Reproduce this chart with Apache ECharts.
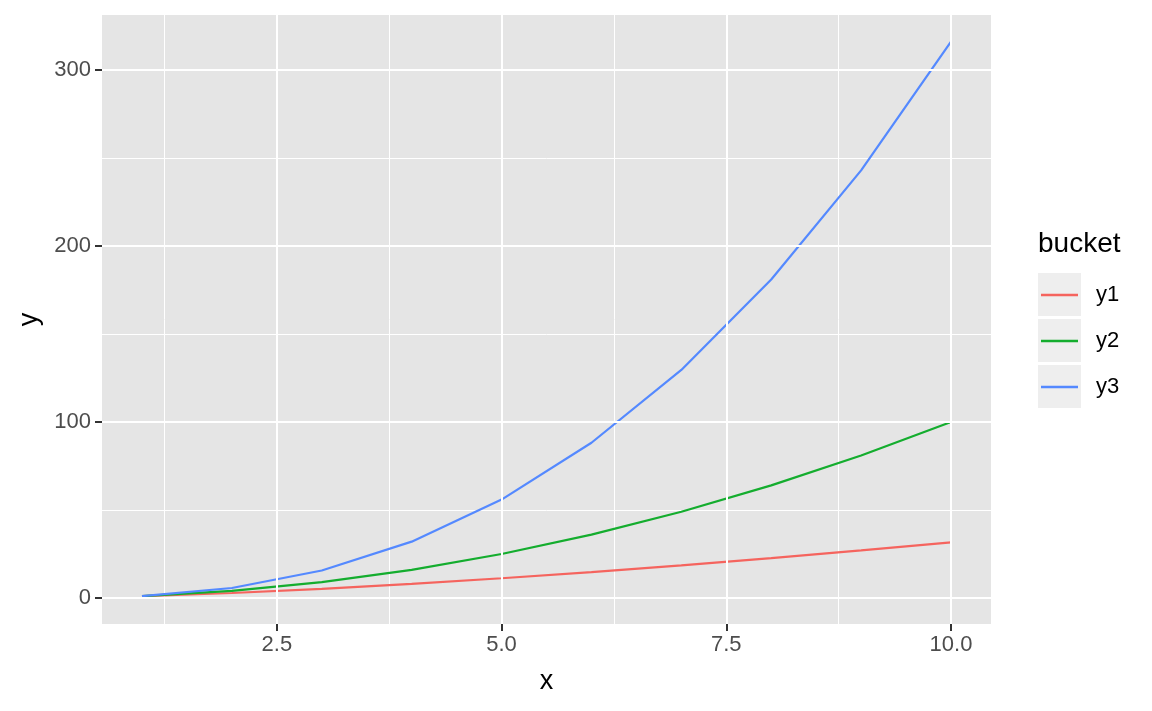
<!DOCTYPE html>
<html><head><meta charset="utf-8">
<script src="https://cdn.jsdelivr.net/npm/echarts@6/dist/echarts.min.js"></script>
<style>html,body{margin:0;padding:0;background:#fff}#c{width:1152px;height:711px}</style>
</head><body><div id="c"></div>
<script>
const xValues = [1, 2, 3, 4, 5, 6, 7, 8, 9, 10];
const y1 = [1, 2.83, 5.2, 8, 11.2, 14.7, 18.5, 22.6, 27, 31.6];
const y2 = [1, 4, 9, 16, 25, 36, 49, 64, 81, 100];
const y3 = [1, 5.66, 15.6, 32, 55.9, 88.2, 129.6, 181, 243, 316.2];
const seriesNames = ['y1', 'y2', 'y3'];
const xTicks = [2.5, 5.0, 7.5, 10.0];
const xMinor = [1.25, 3.75, 6.25, 8.75];
const yTicks = [0, 100, 200, 300];
const yMinor = [50, 150, 250];
const colors = ['#F5645E', '#14AD2E', '#5489FF'];

const xMin = 0.555, xMax = 10.445, yMin = -14.8, yMax = 331.3;
const font = 'Liberation Sans, Arial, sans-serif';
const chart = echarts.init(document.getElementById('c'));
const allY = [y1, y2, y3];
const gridPos = {left: 102, right: 161, top: 15, bottom: 87};

const option = {
  backgroundColor: '#fff',
  animation: false,
  grid: Object.assign({show: true, backgroundColor: '#E5E5E5', borderWidth: 0, containLabel: false}, gridPos),
  xAxis: [
    {
      type: 'value', min: xMin, max: xMax,
      name: 'x', nameLocation: 'middle', nameGap: 44, position: 'bottom',
      nameTextStyle: {fontFamily: font, fontSize: 27, color: '#000'},
      axisLine: {show: false, onZero: false},
      axisTick: {show: true, inside: false, length: 7, customValues: xTicks, lineStyle: {color: '#333', width: 2}},
      axisLabel: {customValues: xTicks, fontFamily: font, fontSize: 22, color: '#4D4D4D', margin: 10,
        formatter: v => v.toFixed(1)},
      splitLine: {show: true, lineStyle: {color: '#fff', width: 2}},
      z: 10
    },
    {
      type: 'value', min: xMin, max: xMax,
      show: true, position: 'top',
      axisLine: {show: false, onZero: false}, axisTick: {show: false, customValues: xMinor},
      axisLabel: {show: false, customValues: xMinor},
      splitLine: {show: true, lineStyle: {color: '#fff', width: 1}}
    }
  ],
  yAxis: [
    {
      type: 'value', min: yMin, max: yMax,
      name: 'y', nameLocation: 'middle', nameGap: 58, nameRotate: 90, position: 'left',
      nameTextStyle: {fontFamily: font, fontSize: 27, color: '#000'},
      axisLine: {show: false, onZero: false},
      axisTick: {show: true, inside: false, length: 7, customValues: yTicks, lineStyle: {color: '#333', width: 2}},
      axisLabel: {customValues: yTicks, fontFamily: font, fontSize: 22, color: '#4D4D4D', margin: 11},
      splitLine: {show: true, lineStyle: {color: '#fff', width: 2}},
      z: 10
    },
    {
      type: 'value', min: yMin, max: yMax,
      show: true, position: 'right',
      axisLine: {show: false, onZero: false}, axisTick: {show: false, customValues: yMinor},
      axisLabel: {show: false, customValues: yMinor},
      splitLine: {show: true, lineStyle: {color: '#fff', width: 1}}
    }
  ],
  legend: seriesNames.map((n, i) => ({
    data: [n], left: 1041, top: 284 + i * 46, orient: 'vertical',
    itemWidth: 37, itemHeight: 2.5, icon: 'rect', itemGap: 0, padding: 0,
    textStyle: {fontFamily: font, fontSize: 22, color: '#000', padding: [0, 0, 0, 13]},
    selectedMode: false
  })),
  graphic: [
    {type: 'text', x: 1038, y: 244, style: {text: 'bucket', fontFamily: font, fontSize: 28, fill: '#000', verticalAlign: 'middle'}},
    ...seriesNames.map((n, i) => ({
      type: 'rect', shape: {x: 1038, y: 273 + i * 46, width: 43, height: 43},
      style: {fill: '#EEEEEE'}, z: -1
    }))
  ],
  series: seriesNames.map((n, i) => ({
    name: n, type: 'line', xAxisIndex: 0, yAxisIndex: 0,
    data: xValues.map((x, k) => [x, allY[i][k]]),
    showSymbol: false, symbol: 'none',
    lineStyle: {color: colors[i], width: 2.2},
    itemStyle: {color: colors[i]}
  }))
};
chart.setOption(option);
</script></body></html>
